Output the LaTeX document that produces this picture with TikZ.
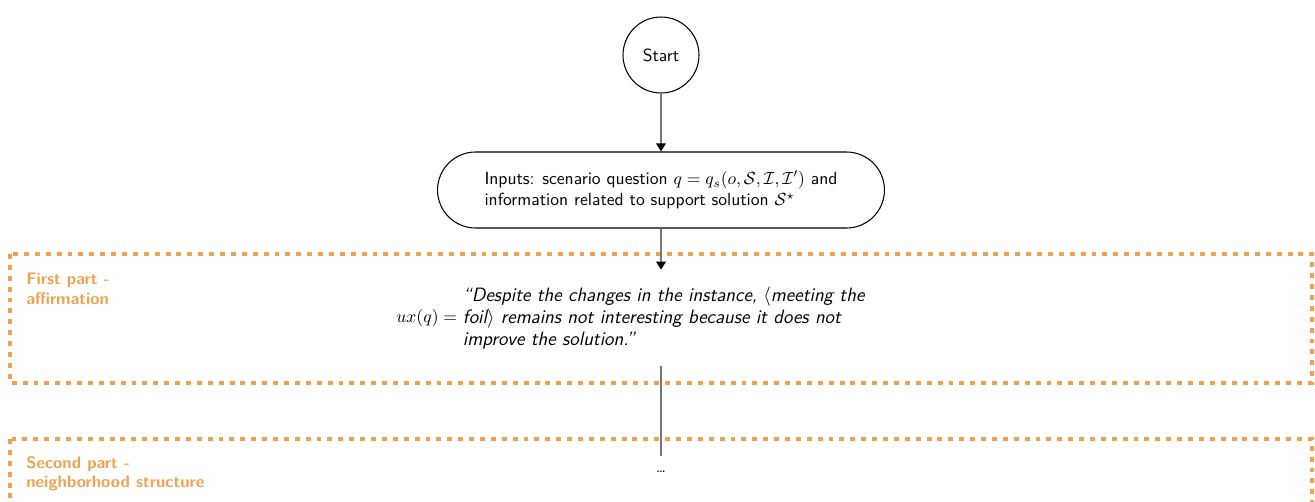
\documentclass[tikz,border=0pt]{standalone}
\usetikzlibrary{arrows.meta,shapes.geometric}
\renewcommand{\familydefault}{\sfdefault}
\definecolor{partorange}{RGB}{240,162,80}
\definecolor{flowgray}{RGB}{120,120,120}
\begin{document}
\begin{tikzpicture}[x=0.02cm,y=-0.02cm,
  flow/.style={draw=flowgray,line width=0.9pt},
  arr/.style={flow,-{Triangle[width=5.5pt,length=4.6pt,color=black]}},
  partbox/.style={draw=partorange,line width=1.9pt,dash pattern=on 2.8pt off 3.4pt},
  partlabel/.style={text=partorange,font=\fontsize{9.5}{11}\selectfont\bfseries,align=left,anchor=north west,inner sep=0pt},
  startnode/.style={circle,draw,line width=0.6pt,minimum size=1.52cm,inner sep=0pt},
  inputnode/.style={draw,line width=0.6pt,rounded corners=0.76cm,minimum width=8.94cm,minimum height=1.52cm,align=left},
]
\clip (0,0) rectangle (1315,501);

% section frames
\draw[partbox] (10,254) rectangle (1312,383);
\draw[partbox] (10,439) rectangle (1312,540);
\node[partlabel] (lab1) at (26,273) {First part -\\affirmation};
\node[partlabel] (lab2) at (26,456) {Second part -\\neighborhood structure};

% flow
\node[startnode] (start) at (661,55) {Start};
\node[inputnode] (inputs) at (661,190) {Inputs: scenario question $q=q_s(o,\mathcal{S},\mathcal{I},\mathcal{I}')$ and\\information related to support solution $\mathcal{S}^\star$};
\node[anchor=west,minimum height=1.92cm,inner sep=0pt] (ux) at (396,318)
  {$ux(q) =$ \begin{minipage}[c]{8.2cm}\fontsize{11}{12.5}\selectfont\raggedright\itshape ``Despite the changes in the instance, $\langle$meeting the foil$\rangle$ remains not interesting because it does not improve the solution.''\end{minipage}};
\node[minimum height=0.64cm,inner sep=0pt,font=\small] (dots) at (661,472) {\dots};

\draw[arr] (start) -- (inputs);
\draw[arr] (inputs.south) -- (inputs.south |- ux.north);
\draw[flow] (ux.south -| inputs.south) -- (dots.north);
\end{tikzpicture}
\end{document}
